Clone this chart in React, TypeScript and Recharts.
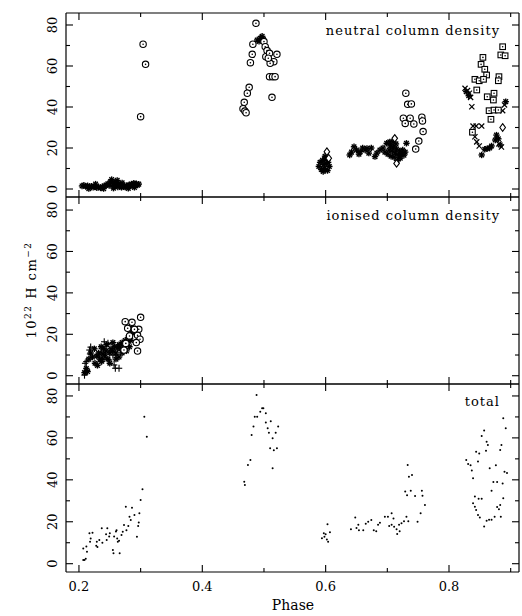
import React from 'react';
import { ScatterChart, Scatter, XAxis, YAxis } from 'recharts';

const FONT = '"DejaVu Serif", serif';

// phase axis
const X_DOMAIN = [0.179, 0.9135];
const X_TICKS = [0.2, 0.3, 0.4, 0.5, 0.6, 0.7, 0.8, 0.9];
const Y_TICKS = [0, 10, 20, 30, 40, 50, 60, 70, 80];

// ---- neutral column density (top panel), [phase, 10^22 H cm^-2]
const neutralCircles = [
  [0.304, 70.6], [0.308, 60.8], [0.3, 35.3],
  [0.487, 80.8], [0.482, 70.6], [0.481, 65.7], [0.478, 61.6], [0.476, 49.6], [0.473, 46.7],
  [0.468, 42.3], [0.466, 39.2], [0.469, 38], [0.471, 37.2],
  [0.5, 71.9], [0.502, 69.4], [0.505, 67.5], [0.503, 64.5], [0.509, 66.2], [0.521, 65.7],
  [0.516, 62.1], [0.51, 61.3], [0.507, 63.8], [0.509, 54.8], [0.514, 54.8], [0.518, 54.8], [0.513, 44.7],
  [0.73, 46.7], [0.733, 41.3], [0.739, 41.5], [0.726, 34.5], [0.729, 32], [0.737, 34.5],
  [0.743, 31.7], [0.756, 35], [0.757, 33.2], [0.758, 28], [0.751, 23.4], [0.746, 19.5],
];

const neutralStars = [
  [0.205, 1.5], [0.208, 1.8], [0.211, 1.2], [0.214, 1.6], [0.217, 1.0], [0.22, 1.4], [0.223, 0.8],
  [0.226, 1.2], [0.229, 0.6], [0.232, 1.0], [0.235, 0.5], [0.238, 1.1], [0.241, 1.5], [0.244, 1.9],
  [0.247, 2.6], [0.249, 1.7], [0.251, 3.5], [0.253, 4.6], [0.255, 2.5], [0.257, 1.2], [0.259, 3.2],
  [0.261, 2.0], [0.263, 1.0], [0.265, 2.4], [0.267, 1.5], [0.269, 0.8], [0.271, 1.8], [0.273, 1.2],
  [0.275, 0.9], [0.277, 1.6], [0.279, 1.1], [0.281, 2.0], [0.283, 1.4], [0.285, 2.4], [0.287, 1.8],
  [0.289, 2.8], [0.291, 2.2], [0.293, 2.6], [0.295, 1.9], [0.297, 2.4],
  [0.216, 0.2], [0.227, 2.4], [0.24, 0.2], [0.256, 0.4], [0.262, 4.2], [0.27, 3.0], [0.28, 0.3], [0.29, 0.8],
  [0.489, 72.7], [0.492, 72], [0.494, 73.5], [0.497, 74.5], [0.499, 73],
  [0.589, 11], [0.591, 13], [0.593, 9.5], [0.595, 14], [0.597, 12], [0.598, 10], [0.6, 15],
  [0.601, 12.5], [0.603, 9], [0.604, 13], [0.606, 11], [0.599, 16], [0.596, 8.5],
  [0.639, 16.6], [0.642, 18], [0.646, 20.6], [0.65, 19], [0.654, 17], [0.656, 18.2], [0.66, 20],
  [0.664, 19], [0.667, 19.8], [0.67, 17.5], [0.674, 20], [0.68, 15.8], [0.683, 17.5], [0.688, 19],
  [0.693, 20], [0.696, 18], [0.699, 22.3], [0.701, 17], [0.703, 19], [0.705, 21], [0.706, 16],
  [0.708, 18.5], [0.71, 20.5], [0.711, 15.5], [0.713, 17.5], [0.715, 19.5], [0.716, 14],
  [0.718, 16.5], [0.72, 18.5], [0.721, 15], [0.723, 17], [0.725, 19], [0.727, 16.5], [0.729, 18],
  [0.731, 22.3], [0.714, 22], [0.709, 23], [0.704, 23],
  [0.828, 47.5], [0.832, 45.5], [0.892, 42.6], [0.853, 16.6], [0.858, 19.4], [0.862, 19.7],
  [0.866, 20], [0.869, 21], [0.875, 23.9], [0.877, 26.3], [0.88, 24.5], [0.883, 21.5],
];

const neutralDiamonds = [
  [0.602, 18.2], [0.605, 15], [0.712, 24.7], [0.715, 12.5], [0.887, 30],
];

const neutralBoxes = [
  [0.887, 69.4], [0.884, 65.4], [0.891, 65], [0.855, 64.2], [0.852, 60.8], [0.858, 58.4],
  [0.861, 55.6], [0.842, 53.5], [0.849, 52.8], [0.856, 53.5], [0.881, 54.8], [0.88, 52.8],
  [0.845, 48.3], [0.862, 45], [0.873, 46.7], [0.872, 43.4], [0.865, 38.2], [0.873, 38.5],
  [0.88, 38.5], [0.868, 34], [0.838, 27.7],
];

const neutralCrosses = [
  [0.826, 49.1], [0.83, 48], [0.833, 46.7], [0.835, 44.7], [0.837, 40.1], [0.887, 38.2],
  [0.839, 30.7], [0.844, 30.7], [0.853, 30.7], [0.842, 25.5], [0.845, 23], [0.849, 21],
  [0.89, 41], [0.885, 20.5], [0.881, 22],
];

// ---- ionised column density (middle panel)
const ionisedCircles = [
  [0.3, 28.2], [0.275, 26.1], [0.286, 25.8], [0.297, 22.4], [0.279, 22.9], [0.282, 19.2],
  [0.295, 19.5], [0.299, 17.6], [0.293, 16], [0.295, 11.9], [0.276, 15.6], [0.273, 12.4], [0.29, 22.4],
];

const ionisedPlus = [
  [0.209, 0.3], [0.211, 1.9], [0.213, 2.5], [0.21, 6], [0.212, 6.8], [0.217, 12.4], [0.218, 10.5],
  [0.219, 13.8], [0.236, 6.8], [0.238, 7.7], [0.241, 16.4], [0.247, 15.6], [0.236, 11.4], [0.233, 9],
  [0.243, 10.4], [0.249, 7.6], [0.255, 10], [0.26, 10], [0.257, 5.2], [0.265, 3.6], [0.259, 3.6],
  [0.263, 14], [0.268, 12.4],
];

const ionisedStars = [
  [0.209, 1.5], [0.212, 3.5], [0.214, 2], [0.216, 8], [0.219, 11], [0.222, 9], [0.226, 6],
  [0.229, 9.5], [0.232, 11], [0.234, 8], [0.237, 7], [0.239, 10.5], [0.242, 9], [0.244, 12],
  [0.247, 8], [0.25, 11], [0.252, 13], [0.255, 12], [0.258, 14], [0.26, 11], [0.263, 13.5],
  [0.265, 15], [0.268, 13], [0.27, 16], [0.273, 14.5], [0.275, 17], [0.278, 16], [0.28, 18.5],
  [0.283, 20], [0.286, 21.5], [0.288, 23], [0.29, 20.5], [0.293, 21], [0.284, 17],
  [0.225, 13], [0.23, 5], [0.236, 14], [0.24, 13], [0.245, 15], [0.25, 6], [0.255, 16],
  [0.26, 8], [0.265, 9], [0.27, 11], [0.277, 12], [0.282, 14],
];

// ---- total (bottom panel)
const totalDots = [
  [0.207, 1.8], [0.209, 1.8], [0.211, 2.4], [0.207, 7.3], [0.212, 8.2], [0.213, 5.7], [0.217, 14.5],
  [0.218, 10.5], [0.219, 12], [0.222, 14.8], [0.228, 8.5], [0.229, 10.5], [0.23, 8], [0.233, 11.3],
  [0.237, 16.9], [0.238, 10], [0.244, 14], [0.245, 11.3], [0.246, 16.9], [0.249, 13], [0.25, 14.5],
  [0.255, 6.5], [0.256, 5], [0.257, 13], [0.26, 15.3], [0.261, 16], [0.262, 12], [0.263, 10.5],
  [0.265, 11], [0.266, 5], [0.269, 13.7], [0.271, 15.2], [0.273, 18.5], [0.276, 27.2], [0.277, 16],
  [0.28, 18], [0.282, 22.4], [0.284, 20.8], [0.286, 26.7], [0.29, 23.2], [0.294, 12.9], [0.296, 18],
  [0.297, 19.6], [0.298, 24], [0.3, 30.4], [0.303, 35.5], [0.306, 70.1], [0.31, 60.6],
  [0.468, 39.1], [0.469, 37.5], [0.474, 47.1], [0.478, 49.5], [0.48, 61.4], [0.483, 65.4],
  [0.485, 70.1], [0.488, 80.5], [0.489, 70.1], [0.494, 72.5], [0.497, 74.1], [0.499, 74.1],
  [0.503, 71.8], [0.503, 67.3], [0.506, 64.6], [0.508, 62.5], [0.511, 67.9], [0.514, 59.8],
  [0.51, 55], [0.516, 54.1], [0.521, 55], [0.519, 62.5], [0.523, 65.4], [0.514, 45.5],
  [0.594, 12.1], [0.597, 14.5], [0.598, 12.8], [0.602, 11.5], [0.604, 10.5], [0.603, 18.8],
  [0.607, 15], [0.6, 14],
  [0.641, 16.4], [0.648, 22], [0.65, 17], [0.653, 18.6], [0.654, 16], [0.661, 16], [0.665, 19],
  [0.669, 20], [0.674, 20.8], [0.678, 16], [0.682, 15.5], [0.685, 18.6], [0.688, 19.5],
  [0.696, 22.4], [0.701, 22.4], [0.707, 24], [0.71, 21.5], [0.703, 18], [0.707, 18.6],
  [0.711, 17.6], [0.715, 16.4], [0.716, 14.2], [0.719, 18.6], [0.72, 15.5], [0.723, 19.3],
  [0.727, 20.3], [0.731, 22.4], [0.734, 20.3],
  [0.729, 34.4], [0.732, 32.6], [0.733, 47.1], [0.735, 41.5], [0.74, 42.3], [0.738, 34.8],
  [0.745, 32.3], [0.749, 20], [0.754, 24], [0.756, 34.8], [0.757, 32.4], [0.761, 28],
  [0.828, 49.5], [0.831, 47.6], [0.835, 47], [0.837, 44.4], [0.839, 40.7], [0.844, 53.4],
  [0.849, 52.6], [0.847, 48.7], [0.853, 60.9], [0.857, 63.5], [0.861, 58.2], [0.86, 53.9],
  [0.863, 56.6], [0.842, 32], [0.848, 31], [0.853, 31], [0.839, 28.8], [0.842, 27.2],
  [0.844, 25.6], [0.847, 23.2], [0.85, 22], [0.857, 17.7], [0.861, 20.5], [0.865, 21],
  [0.869, 21], [0.874, 22.4], [0.878, 27], [0.881, 26], [0.884, 22.4], [0.866, 45.5],
  [0.872, 39], [0.878, 39], [0.876, 47], [0.869, 34.8], [0.883, 54.2], [0.885, 56.6],
  [0.888, 69.4], [0.892, 64.6], [0.887, 38.2], [0.888, 31.2], [0.89, 43.9], [0.894, 43.2], [0.883, 28],
];

const toPts = (arr: number[][]) => arr.map(([p, v]) => ({ p, v }));

// ---- marker shapes
const CircleDot = ({ cx, cy }: any) => (
  <g>
    <circle cx={cx} cy={cy} r={3.2} fill="#fff" stroke="#000" strokeWidth={1.1} />
    <circle cx={cx} cy={cy} r={0.8} fill="#000" />
  </g>
);

const BoxDot = ({ cx, cy }: any) => (
  <g>
    <rect x={cx - 2.8} y={cy - 2.8} width={5.6} height={5.6} fill="#fff" stroke="#000" strokeWidth={1.1} />
    <circle cx={cx} cy={cy} r={0.8} fill="#000" />
  </g>
);

const Star = ({ cx, cy }: any) => (
  <g stroke="#000" strokeWidth={1.4}>
    <line x1={cx - 3.2} y1={cy} x2={cx + 3.2} y2={cy} />
    <line x1={cx} y1={cy - 3.2} x2={cx} y2={cy + 3.2} />
    <line x1={cx - 2.3} y1={cy - 2.3} x2={cx + 2.3} y2={cy + 2.3} />
    <line x1={cx - 2.3} y1={cy + 2.3} x2={cx + 2.3} y2={cy - 2.3} />
  </g>
);

const Diamond = ({ cx, cy }: any) => (
  <path
    d={`M${cx},${cy - 3.8}L${cx + 2.8},${cy}L${cx},${cy + 3.8}L${cx - 2.8},${cy}Z`}
    fill="#fff"
    stroke="#000"
    strokeWidth={1.1}
  />
);

const Cross = ({ cx, cy }: any) => (
  <g stroke="#000" strokeWidth={1.2}>
    <line x1={cx - 2.6} y1={cy - 2.6} x2={cx + 2.6} y2={cy + 2.6} />
    <line x1={cx - 2.6} y1={cy + 2.6} x2={cx + 2.6} y2={cy - 2.6} />
  </g>
);

const Plus = ({ cx, cy }: any) => (
  <g stroke="#000" strokeWidth={1.1}>
    <line x1={cx - 3.2} y1={cy} x2={cx + 3.2} y2={cy} />
    <line x1={cx} y1={cy - 3.6} x2={cx} y2={cy + 3.6} />
  </g>
);

const Dot = ({ cx, cy }: any) => <circle cx={cx} cy={cy} r={1} fill="#000" />;

// ---- ticks pointing into the frame
const XTick = ({ x, y, payload, side, showLabel }: any) => {
  const major = Math.round(payload.value * 10) % 2 === 0;
  const len = major ? 7 : 4;
  const dir = side === 'bottom' ? -1 : 1;
  return (
    <g>
      <line x1={x} y1={y} x2={x} y2={y + dir * len} stroke="#000" strokeWidth={1.1} />
      {showLabel && major && (
        <text x={x} y={y + 19} textAnchor="middle" fontFamily={FONT} fontSize={13} fill="#000">
          {payload.value.toFixed(1)}
        </text>
      )}
    </g>
  );
};

const YTick = ({ x, y, payload, side }: any) => {
  const major = payload.value % 20 === 0;
  const len = major ? 7 : 4;
  const dir = side === 'left' ? 1 : -1;
  return (
    <g>
      <line x1={x} y1={y} x2={x + dir * len} y2={y} stroke="#000" strokeWidth={1.1} />
      {side === 'left' && major && (
        <text
          transform={`translate(${x - 14},${y}) rotate(-90)`}
          textAnchor="middle"
          dominantBaseline="central"
          fontFamily={FONT}
          fontSize={13}
          fill="#000"
        >
          {payload.value}
        </text>
      )}
    </g>
  );
};

const frame = { stroke: '#000', strokeWidth: 1.2 };

type Series = { data: number[][]; shape: any };

// axes are 1px thick, margins are trimmed by 1px to keep the frame in place
const Panel = ({
  top, height, margin, yDomain, series, bottomLabels,
}: {
  top: number; height: number; margin: any; yDomain: number[]; series: Series[]; bottomLabels?: boolean;
}) => (
  <div style={{ position: 'absolute', left: 0, top }}>
    <ScatterChart width={522} height={height} margin={margin}>
      <XAxis
        xAxisId="b" dataKey="p" type="number" domain={X_DOMAIN} ticks={X_TICKS} allowDataOverflow
        orientation="bottom" height={1} tickSize={0} tickMargin={0} tickLine={false} interval={0}
        axisLine={frame} tick={<XTick side="bottom" showLabel={bottomLabels} />}
      />
      <XAxis
        xAxisId="t" dataKey="p" type="number" domain={X_DOMAIN} ticks={X_TICKS} allowDataOverflow
        orientation="top" height={1} tickSize={0} tickMargin={0} tickLine={false} interval={0}
        axisLine={frame} tick={<XTick side="top" />}
      />
      <YAxis
        yAxisId="l" dataKey="v" type="number" domain={yDomain} ticks={Y_TICKS} allowDataOverflow
        orientation="left" width={1} tickSize={0} tickMargin={0} tickLine={false} interval={0}
        axisLine={frame} tick={<YTick side="left" />}
      />
      <YAxis
        yAxisId="r" dataKey="v" type="number" domain={yDomain} ticks={Y_TICKS} allowDataOverflow
        orientation="right" width={1} tickSize={0} tickMargin={0} tickLine={false} interval={0}
        axisLine={frame} tick={<YTick side="right" />}
      />
      {series.map((s, i) => (
        <Scatter
          key={i} xAxisId="b" yAxisId="l" data={toPts(s.data)} dataKey="v"
          shape={s.shape} isAnimationActive={false}
        />
      ))}
    </ScatterChart>
  </div>
);

const titleStyle = { fontFamily: FONT, fontSize: 13, letterSpacing: 1, fill: '#000' };

export default function App() {
  return (
    <div style={{ position: 'absolute', left: 0, top: 0, width: 522, height: 616, background: '#fff' }}>
      <Panel
        top={0} height={202} margin={{ top: 12, right: 2, bottom: 4, left: 65 }} yDomain={[-3.9, 85.85]}
        series={[
          { data: neutralStars, shape: Star },
          { data: neutralCrosses, shape: Cross },
          { data: neutralDiamonds, shape: Diamond },
          { data: neutralBoxes, shape: BoxDot },
          { data: neutralCircles, shape: CircleDot },
        ]}
      />
      <Panel
        top={192} height={197} margin={{ top: 4, right: 2, bottom: 4, left: 65 }} yDomain={[-4.0, 86.3]}
        series={[
          { data: ionisedPlus, shape: Plus },
          { data: ionisedStars, shape: Star },
          { data: ionisedCircles, shape: CircleDot },
        ]}
      />
      <Panel
        top={379} height={237} margin={{ top: 4, right: 2, bottom: 43, left: 65 }} yDomain={[-3.96, 85.7]}
        series={[{ data: totalDots, shape: Dot }]}
        bottomLabels
      />
      <svg width={522} height={616} style={{ position: 'absolute', left: 0, top: 0, pointerEvents: 'none' }}>
        <text x={500} y={35} textAnchor="end" style={titleStyle}>neutral column density</text>
        <text x={500} y={220} textAnchor="end" style={titleStyle}>ionised column density</text>
        <text x={500} y={406} textAnchor="end" style={titleStyle}>total</text>
        <text x={293} y={610} textAnchor="middle" fontFamily={FONT} fontSize={14} fill="#000">Phase</text>
        <text
          transform="translate(36,290) rotate(-90)" textAnchor="middle"
          fontFamily={FONT} fontSize={13} letterSpacing={1.5} fill="#000"
        >
          10<tspan dy={-5} fontSize={9}>22</tspan>
          <tspan dy={5}> H cm</tspan>
          <tspan dy={-5} fontSize={9}>−2</tspan>
        </text>
      </svg>
    </div>
  );
}
